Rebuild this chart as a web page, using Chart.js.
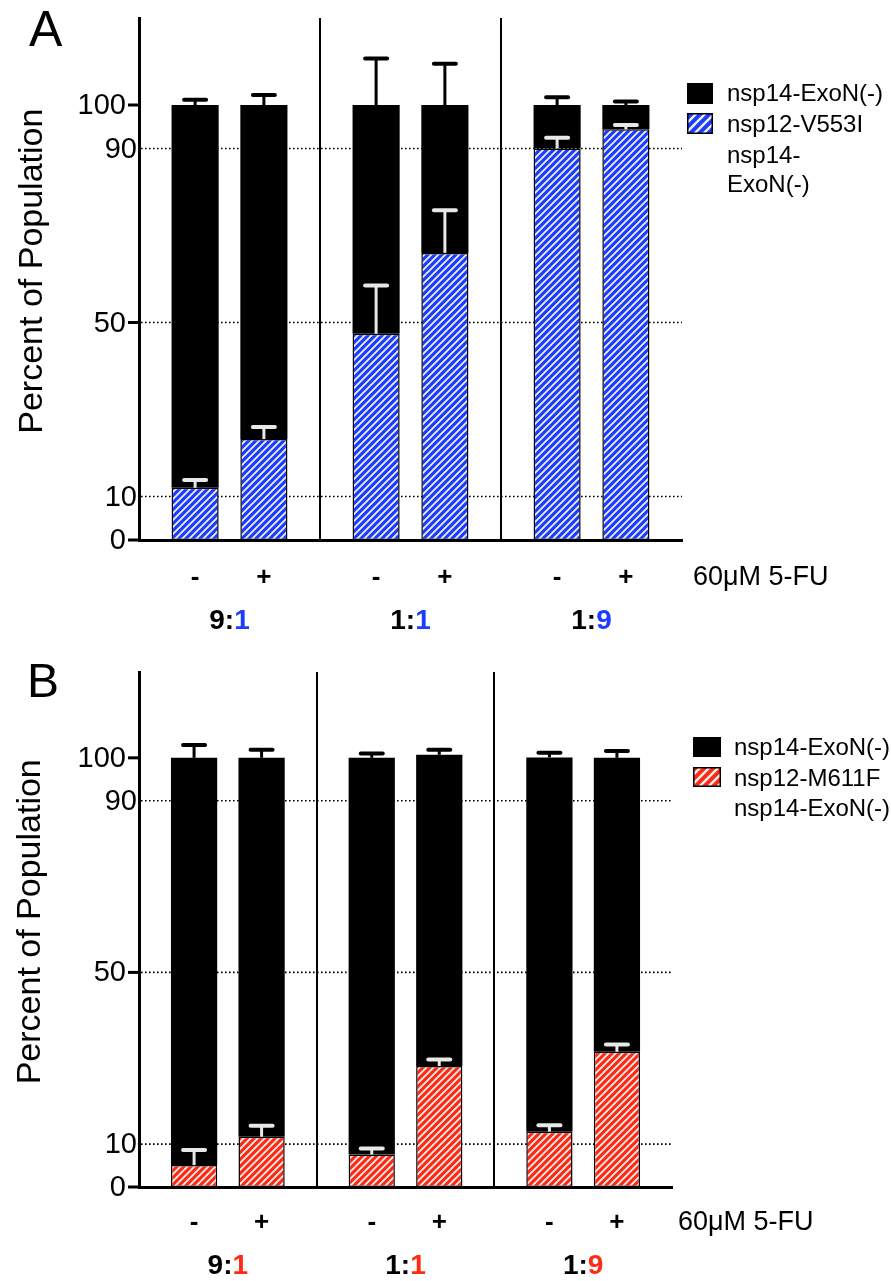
<!DOCTYPE html>
<html>
<head>
<meta charset="utf-8">
<script src="https://cdn.jsdelivr.net/npm/chart.js@4.4.1/dist/chart.umd.min.js"></script>
<style>
  body { margin: 0; background: #fff; }
  canvas { position: absolute; left: 0; }
</style>
</head>
<body>
<canvas id="chartA" width="891" height="640" style="top:0"></canvas>
<canvas id="chartB" width="891" height="641" style="top:640px"></canvas>
<script>
const ratios = ['9:1', '1:1', '1:9'];
const treatments = ['-', '+'];
const yTicks = [0, 10, 50, 90, 100];
const majorTicks = [0, 50, 100];
const dottedLines = [10, 50, 90];

// panel A - nsp12-V553I
const mutantMinusA = [12.0, 47.4, 90.0];
const mutantPlusA = [23.2, 66.0, 94.4];
const exonMinusA = [88.0, 52.6, 10.0];
const exonPlusA = [76.8, 34.0, 5.6];
const mutantErrMinusA = [1.8, 11.1, 2.5];
const mutantErrPlusA = [2.8, 9.8, 1.0];
const exonErrMinusA = [1.2, 10.7, 1.8];
const exonErrPlusA = [2.3, 9.5, 0.8];

// panel B - nsp12-M611F
const mutantMinusB = [5.1, 7.6, 12.9];
const mutantPlusB = [11.7, 28.2, 31.5];
const exonMinusB = [94.9, 92.4, 87.2];
const exonPlusB = [88.3, 72.5, 68.5];
const mutantErrMinusB = [3.5, 1.4, 1.5];
const mutantErrPlusB = [2.6, 1.5, 1.7];
const exonErrMinusB = [3.0, 1.0, 1.1];
const exonErrPlusB = [1.9, 1.2, 1.6];

const FONT = "'Liberation Sans', Arial, Helvetica, sans-serif";
const BLUE = '#1c3cff';
const RED = '#ff2a14';

function hatch(color, size, width) {
  const c = document.createElement('canvas');
  c.width = c.height = size;
  const g = c.getContext('2d');
  g.fillStyle = color;
  g.fillRect(0, 0, size, size);
  g.strokeStyle = '#f0f0f0';
  g.lineWidth = width;
  g.beginPath();
  for (const k of [-1, 0, 1]) {
    g.moveTo(k * size - 1, size + 1);
    g.lineTo(k * size + size + 1, -1);
  }
  g.stroke();
  return g.createPattern(c, 'repeat');
}

const decor = {
  id: 'decor',
  beforeDatasetsDraw(chart) {
    const { ctx, chartArea: a, scales: { y } } = chart;
    ctx.save();
    ctx.strokeStyle = '#000';
    ctx.lineWidth = 1.6;
    ctx.setLineDash([1.6, 2.4]);
    dottedLines.forEach(v => {
      const py = y.getPixelForValue(v);
      ctx.beginPath();
      ctx.moveTo(a.left + 2, py);
      ctx.lineTo(a.right, py);
      ctx.stroke();
    });
    ctx.restore();
  },
  afterDatasetsDraw(chart) {
    const { ctx, scales: { y } } = chart;
    ctx.save();
    chart.data.datasets.forEach((ds, di) => {
      const meta = chart.getDatasetMeta(di);
      meta.data.forEach((el, i) => {
        const len = y.getPixelForValue(0) - y.getPixelForValue(ds.errors[i]);
        const top = el.y - len;
        ctx.strokeStyle = ds.errColor;
        ctx.lineCap = 'butt';
        ctx.lineWidth = 3;
        ctx.beginPath();
        ctx.moveTo(el.x, el.y);
        ctx.lineTo(el.x, top);
        ctx.stroke();
        ctx.lineCap = 'round';
        ctx.lineWidth = 4;
        ctx.beginPath();
        ctx.moveTo(el.x - 11, top);
        ctx.lineTo(el.x + 11, top);
        ctx.stroke();
      });
    });
    ctx.restore();
  },
  afterDraw(chart, args, o) {
    const { ctx, chartArea: a, scales: { x, y } } = chart;
    ctx.save();
    ctx.fillStyle = '#000';
    ctx.strokeStyle = '#000';

    // y ticks and labels
    ctx.font = `29px ${FONT}`;
    ctx.textAlign = 'right';
    ctx.textBaseline = 'middle';
    yTicks.forEach(v => {
      const py = y.getPixelForValue(v);
      const major = majorTicks.includes(v);
      if (major) {
        ctx.lineWidth = 3;
        ctx.beginPath();
        ctx.moveTo(a.left - 11, py);
        ctx.lineTo(a.left, py);
        ctx.stroke();
      }
      ctx.fillText(String(v), major ? a.left - 13 : a.left - 2, py + 1);
    });

    // y title
    ctx.save();
    ctx.font = `34px ${FONT}`;
    ctx.textAlign = 'center';
    ctx.textBaseline = 'alphabetic';
    ctx.translate(o.titleX, a.top + (a.bottom - a.top) * 0.485);
    ctx.rotate(-Math.PI / 2);
    ctx.fillText('Percent of Population', 0, 0);
    ctx.restore();

    // panel letter
    ctx.font = `${o.letterSize}px ${FONT}`;
    ctx.textAlign = 'left';
    ctx.textBaseline = 'alphabetic';
    ctx.fillText(o.letter, o.letterX, o.letterY);

    // - / + under each bar
    ctx.font = `bold 26px ${FONT}`;
    ctx.textAlign = 'center';
    ctx.textBaseline = 'middle';
    [0, 2].forEach((di, t) => {
      chart.getDatasetMeta(di).data.forEach(el => {
        ctx.fillText(treatments[t], el.x, o.signY);
      });
    });

    // ratio labels, second number coloured
    ctx.font = `bold 28px ${FONT}`;
    ctx.textAlign = 'left';
    ratios.forEach((r, i) => {
      const head = r.slice(0, 2), tail = r.slice(2);
      const w1 = ctx.measureText(head).width, w2 = ctx.measureText(tail).width;
      const x0 = x.getPixelForValue(i) - (w1 + w2) / 2;
      ctx.fillStyle = '#000';
      ctx.fillText(head, x0, o.ratioY);
      ctx.fillStyle = o.color;
      ctx.fillText(tail, x0 + w1, o.ratioY);
    });

    ctx.fillStyle = '#000';
    ctx.font = `27px ${FONT}`;
    ctx.fillText('60\u03bcM 5-FU', o.doseX, o.signY);

    // legend
    const L = o.legend;
    ctx.lineWidth = 1.5;
    ctx.fillStyle = '#000';
    ctx.fillRect(L.x, L.y1, L.w, L.h);
    ctx.fillStyle = o.boxPattern;
    ctx.fillRect(L.x, L.y2, L.w, L.h);
    ctx.strokeRect(L.x + 0.75, L.y2 + 0.75, L.w - 1.5, L.h - 1.5);
    ctx.fillStyle = '#000';
    ctx.font = `24px ${FONT}`;
    ctx.textBaseline = 'middle';
    L.lines.forEach((t, k) => ctx.fillText(t, L.textX, L.lineY[k]));
    ctx.restore();
  }
};

function makeChart(id, mutMinus, mutPlus, exMinus, exPlus, errs, color, pad, xHeight, o) {
  const barPattern = hatch(color, 7, 1.8);
  o.boxPattern = hatch(color, 9, 2.4);
  o.color = color;
  const common = { categoryPercentage: 0.76, barPercentage: 0.685 };
  new Chart(document.getElementById(id), {
    type: 'bar',
    data: {
      labels: ratios,
      datasets: [
        { label: 'mutant -', stack: 'minus', data: mutMinus, errors: errs[0], errColor: '#e8e8e8',
          backgroundColor: barPattern, borderColor: '#000', borderWidth: 1.5, borderSkipped: false, ...common },
        { label: 'nsp14-ExoN(-) -', stack: 'minus', data: exMinus, errors: errs[1], errColor: '#000',
          backgroundColor: '#000', borderWidth: 0, ...common },
        { label: 'mutant +', stack: 'plus', data: mutPlus, errors: errs[2], errColor: '#e8e8e8',
          backgroundColor: barPattern, borderColor: '#000', borderWidth: 1.5, borderSkipped: false, ...common },
        { label: 'nsp14-ExoN(-) +', stack: 'plus', data: exPlus, errors: errs[3], errColor: '#000',
          backgroundColor: '#000', borderWidth: 0, ...common }
      ]
    },
    options: {
      responsive: false,
      animation: false,
      layout: { padding: { left: 0, top: pad.top, right: pad.right, bottom: 0 } },
      plugins: { legend: { display: false }, tooltip: { enabled: false }, decor: o },
      scales: {
        x: {
          stacked: true,
          ticks: { display: false },
          grid: {
            offset: true,
            drawTicks: false,
            lineWidth: 2,
            color: c => (c.index === 1 || c.index === 2) ? '#000' : 'rgba(0,0,0,0)'
          },
          border: { display: true, color: '#000', width: 3 },
          afterFit: s => { s.height = xHeight; }
        },
        y: {
          stacked: true,
          min: 0,
          max: 120,
          ticks: { display: false },
          grid: { display: false },
          border: { display: true, color: '#000', width: 3 },
          afterFit: s => { s.width = 139; }
        }
      }
    },
    plugins: [decor]
  });
}

makeChart('chartA', mutantMinusA, mutantPlusA, exonMinusA, exonPlusA,
  [mutantErrMinusA, exonErrMinusA, mutantErrPlusA, exonErrPlusA], BLUE,
  { top: 18, right: 209 }, 100,
  { titleX: 42, letter: 'A', letterSize: 50, letterX: 29, letterY: 46, signY: 578, ratioY: 621, doseX: 693,
    legend: { x: 687, y1: 83, y2: 113, w: 26, h: 21, textX: 727,
      lines: ['nsp14-ExoN(-)', 'nsp12-V553I', 'nsp14-', 'ExoN(-)'], lineY: [94, 125, 156, 185] } });

makeChart('chartB', mutantMinusB, mutantPlusB, exonMinusB, exonPlusB,
  [mutantErrMinusB, exonErrMinusB, mutantErrPlusB, exonErrPlusB], RED,
  { top: 32, right: 219 }, 94,
  { titleX: 40, letter: 'B', letterSize: 48, letterX: 27, letterY: 57, signY: 583, ratioY: 626, doseX: 678,
    legend: { x: 693, y1: 97, y2: 127, w: 28, h: 20, textX: 734,
      lines: ['nsp14-ExoN(-)', 'nsp12-M611F', 'nsp14-ExoN(-)'], lineY: [108, 139, 169] } });
</script>
</body>
</html>
